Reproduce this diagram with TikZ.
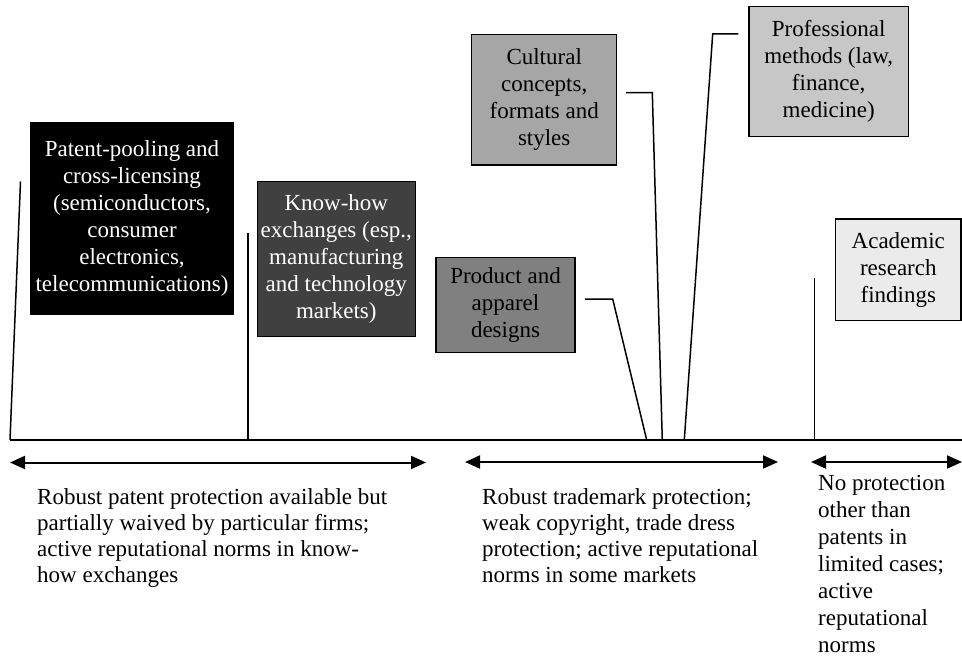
\documentclass[tikz,border=0pt]{standalone}
\usepackage{fontspec}
\setmainfont{Liberation Serif}
\usetikzlibrary{arrows.meta}
\begin{document}
\begin{tikzpicture}[x=1pt,y=-1pt,
  box/.style={draw=black,line width=1.5pt,align=center,inner sep=0pt,
    font=\fontsize{23}{27}\selectfont},
  conn/.style={line width=1.5pt},
  axis/.style={line width=2pt},
  span/.style={line width=2pt,{Triangle[length=15pt,width=13pt]}-{Triangle[length=15pt,width=13pt]}},
  note/.style={align=left,inner sep=0pt,anchor=north west,
    font=\fontsize{23}{26}\selectfont}
]
\useasboundingbox (0,0) rectangle (962,658);
% boxes
\node[box,fill=black,text=white,minimum width=202pt,minimum height=191pt] (patent) at (132,218.5)
  {Patent-pooling and\\cross-licensing\\(semiconductors,\\consumer\\electronics,\\telecommunications)};
\node[box,fill=black!75,text=white,minimum width=158pt,minimum height=155pt] (knowhow) at (336.3,259.2)
  {Know-how\\exchanges (esp.,\\manufacturing\\and technology\\markets)};
\node[box,fill=black!35,minimum width=145pt,minimum height=130.7pt] (cultural) at (544.2,99.7)
  {Cultural\\concepts,\\formats and\\styles};
\node[box,fill=black!50,minimum width=139pt,minimum height=94.6pt] (product) at (505.5,305)
  {Product and\\apparel\\designs};
\node[box,fill=black!22,minimum width=159.3pt,minimum height=130pt] (prof) at (828.7,71.7)
  {Professional\\methods (law,\\finance,\\medicine)};
\node[box,fill=black!8,minimum width=125.3pt,minimum height=101.7pt] (acad) at (898.3,269.8)
  {Academic\\research\\findings};
% axis
\coordinate (axL) at (10,440);
\coordinate (axR) at (962,440);
\draw[axis] (axL) -- (axR);
% connectors
\coordinate (c1t) at (20.5,181.5);
\draw[conn] (axL) -- (c1t);
\coordinate (c2t) at (248,232.7);
\coordinate (c2b) at (248,440);
\draw[conn] (c2t) -- (c2b);
\coordinate (p1) at (585,299);
\coordinate (p2) at (612.7,299);
\coordinate (p3) at (646.7,440);
\draw[conn] (p1) -- (p2) -- (p3);
\coordinate (q1) at (626,92.7);
\coordinate (q2) at (652.3,92.7);
\coordinate (q3) at (662.3,440);
\draw[conn] (q1) -- (q2) -- (q3);
\coordinate (r1) at (738.3,34);
\coordinate (r2) at (712.7,34);
\coordinate (r3) at (684.3,440);
\draw[conn] (r1) -- (r2) -- (r3);
\coordinate (s1) at (814.3,278.3);
\coordinate (s2) at (814.3,440);
\draw[conn] (s1) -- (s2);
% span arrows
\coordinate (a1l) at (10,462.5);
\coordinate (a1r) at (426,462.5);
\draw[span] (a1l) -- (a1r);
\coordinate (a2l) at (465,462);
\coordinate (a2r) at (778,462);
\draw[span] (a2l) -- (a2r);
\coordinate (a3l) at (811,462);
\coordinate (a3r) at (962,462);
\draw[span] (a3l) -- (a3r);
% notes
\node[note] (n1) at (37,485.8)
  {\strut Robust patent protection available but\\partially waived by particular firms;\\active reputational norms in know-\\how exchanges};
\node[note] (n2) at (482,485.8)
  {\strut Robust trademark protection;\\weak copyright, trade dress\\protection; active reputational\\norms in some markets};
\node[note,font=\fontsize{23}{27}\selectfont] (n3) at (818,471.6)
  {\strut No protection\\other than\\patents in\\limited cases;\\active\\reputational\\norms};
\end{tikzpicture}
\end{document}
